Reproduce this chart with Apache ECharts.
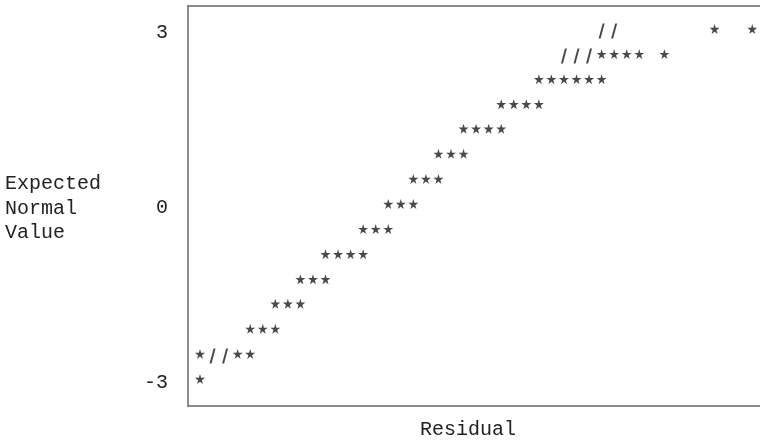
<!DOCTYPE html>
<html>
<head>
<meta charset="utf-8">
<script src="https://cdn.jsdelivr.net/npm/echarts@6/dist/echarts.min.js"></script>
<style>
  html, body { margin: 0; padding: 0; background: #ffffff; }
  #chart { width: 760px; height: 441px; }
</style>
</head>
<body>
<div id="chart"></div>
<script>
// Expected normal value of each printed row (top to bottom)
const expectedValues = [3.00, 2.57, 2.14, 1.71, 1.29, 0.86, 0.43, 0.00, -0.43, -0.86, -1.29, -1.71, -2.14, -2.57, -3.00];
// Residual character columns holding '*' in each row
const starColumns = [
  [41, 44],
  [32, 33, 34, 35, 37],
  [27, 28, 29, 30, 31, 32],
  [24, 25, 26, 27],
  [21, 22, 23, 24],
  [19, 20, 21],
  [17, 18, 19],
  [15, 16, 17],
  [13, 14, 15],
  [10, 11, 12, 13],
  [8, 9, 10],
  [6, 7, 8],
  [4, 5, 6],
  [0, 3, 4],
  [0]
];
// Residual character columns holding '/' in each row
const slashColumns = [
  [32, 33],
  [29, 30, 31],
  [], [], [], [], [], [], [], [], [], [], [],
  [1, 2],
  []
];
const yTickValues = [-3, 0, 3];
const yTitleLines = ['Expected', 'Normal', 'Value'];
const xTitle = 'Residual';

const starPoints = [];
const slashPoints = [];
expectedValues.forEach((v, i) => {
  starColumns[i].forEach(c => starPoints.push([c, v]));
  slashColumns[i].forEach(c => slashPoints.push([c, v]));
});

const FONT = '"Liberation Mono", "DejaVu Sans Mono", monospace';
const chart = echarts.init(document.getElementById('chart'), null, { renderer: 'canvas' });

const STAR = 'path://M50,0 L61,35 L98,35 L68,57 L79,91 L50,70 L21,91 L32,57 L2,35 L39,35 Z';
const SLASH = 'path://M8,0 L12,0 L4,30 L0,30 Z';
const frameLine = { show: true, onZero: false, lineStyle: { color: '#666666', width: 1.5 } };

chart.setOption({
  animation: false,
  backgroundColor: '#ffffff',
  grid: { left: 188, top: 6, right: 0, bottom: 35, show: false },
  xAxis: [
    {
      type: 'value', min: -0.956, max: 44.62, position: 'bottom',
      axisLine: frameLine, axisTick: { show: false },
      axisLabel: { show: false }, splitLine: { show: false }
    },
    {
      type: 'value', min: -0.956, max: 44.62, position: 'top',
      axisLine: frameLine, axisTick: { show: false },
      axisLabel: { show: false }, splitLine: { show: false }
    }
  ],
  yAxis: {
    type: 'value', min: -3.394, max: 3.463,
    axisLine: frameLine, axisTick: { show: false },
    splitLine: { show: false },
    axisLabel: {
      customValues: yTickValues,
      margin: 20,
      fontFamily: FONT, fontSize: 20, color: '#222222'
    }
  },
  graphic: [
    {
      type: 'text', left: 5, top: 171.75, silent: true,
      style: {
        text: yTitleLines.join('\n'), fontFamily: FONT, fontSize: 20,
        lineHeight: 24.5, fill: '#222222'
      }
    },
    {
      type: 'text', silent: true, x: 468, y: 430,
      style: {
        text: xTitle, fontFamily: FONT, fontSize: 20, fill: '#222222',
        align: 'center', verticalAlign: 'middle'
      }
    }
  ],
  series: [
    {
      name: 'obs', type: 'scatter', data: starPoints, xAxisIndex: 0,
      symbol: STAR, symbolSize: [10, 10], symbolOffset: [0, -4],
      itemStyle: { color: '#1c1c1c' }
    },
    {
      name: 'ref', type: 'scatter', data: slashPoints, xAxisIndex: 0,
      symbol: SLASH, symbolSize: [6, 15], symbolOffset: [0, -2],
      itemStyle: { color: '#1c1c1c' }
    }
  ]
});
</script>
</body>
</html>
